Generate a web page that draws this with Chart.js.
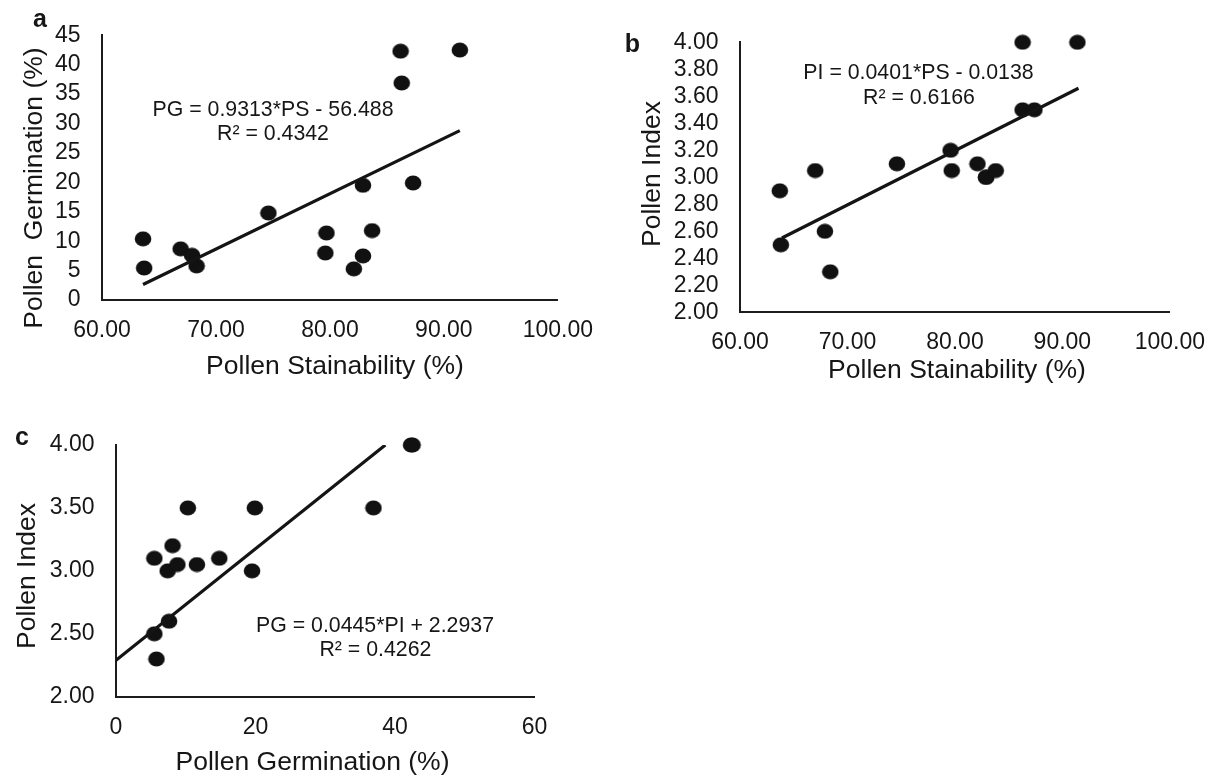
<!DOCTYPE html>
<html>
<head>
<meta charset="utf-8">
<title>Pollen stainability, germination and index</title>
<script src="https://cdn.jsdelivr.net/npm/chart.js@4.4.1/dist/chart.umd.min.js"></script>
<style>
  html, body { margin: 0; padding: 0; background: #fff; }
  body { width: 1222px; height: 775px; position: relative; overflow: hidden; }
  canvas { position: absolute; display: block; }
</style>
</head>
<body>
<canvas id="chartA" width="610" height="390" style="left:0;top:0"></canvas>
<canvas id="chartB" width="602" height="390" style="left:620px;top:0"></canvas>
<canvas id="chartC" width="610" height="375" style="left:0;top:400px"></canvas>
<script>
// panel a: pollen stainability (%) vs pollen germination (%)
const stainA = [63.6, 63.7, 66.9, 67.9, 68.3, 74.6, 79.7, 79.6, 82.1, 82.9, 82.9, 83.7, 86.2, 86.3, 87.3, 91.4];
const germA  = [10.4, 5.45, 8.7, 7.6, 5.8, 14.8, 11.4, 8.0, 5.3, 7.5, 19.5, 11.8, 42.3, 36.9, 19.9, 42.5];
const trendAx = [63.6, 91.4];
const trendAy = [2.64, 28.8];

// panel b: pollen stainability (%) vs pollen index
const stainB = [86.3, 91.4, 86.3, 87.4, 79.6, 74.6, 67.0, 79.7, 82.1, 82.9, 82.9, 83.8, 63.7, 63.8, 67.9, 68.4];
const indexB = [4.00, 4.00, 3.50, 3.50, 3.20, 3.10, 3.05, 3.05, 3.10, 3.00, 3.00, 3.05, 2.90, 2.50, 2.60, 2.30];
const trendBx = [63.9, 91.5];
const trendBy = [2.55, 3.66];

// panel c: pollen germination (%) vs pollen index
const germC  = [42.3, 42.5, 10.3, 19.9, 36.9, 5.5, 8.1, 7.4, 8.8, 11.6, 14.8, 19.5, 7.6, 5.5, 5.8];
const indexC = [4.00, 4.00, 3.50, 3.50, 3.50, 3.10, 3.20, 3.00, 3.05, 3.05, 3.10, 3.00, 2.60, 2.50, 2.30];
const trendCx = [0, 38.6];
const trendCy = [2.29, 4.00];

// tick labels
const stainTicks = [60, 70, 80, 90, 100];
const germTicksA = [0, 5, 10, 15, 20, 25, 30, 35, 40, 45];
const indexTicksB = [2.0, 2.2, 2.4, 2.6, 2.8, 3.0, 3.2, 3.4, 3.6, 3.8, 4.0];
const germTicksC = [0, 20, 40, 60];
const indexTicksC = [2.0, 2.5, 3.0, 3.5, 4.0];

const FAMILY = '"Liberation Sans", Arial, sans-serif';
const INK = '#161616';
const tickFont = { family: FAMILY, size: 23 };

// filled dot, a touch wider than tall like the original
function dotImage() {
  const c = document.createElement('canvas');
  c.width = 18; c.height = 16;
  const g = c.getContext('2d');
  g.fillStyle = '#111';
  g.beginPath();
  g.ellipse(9, 8, 8.3, 7.5, 0, 0, Math.PI * 2);
  g.fill();
  return c;
}
const dot = dotImage();

// titles, equations and panel letters
function labelPlugin(items) {
  return {
    id: 'panelText',
    afterDraw(chart) {
      const ctx = chart.ctx;
      items.forEach(t => {
        ctx.save();
        ctx.font = t.font;
        ctx.fillStyle = INK;
        ctx.textAlign = 'center';
        ctx.textBaseline = 'alphabetic';
        ctx.translate(t.x, t.y);
        if (t.rotate) ctx.rotate(-Math.PI / 2);
        ctx.fillText(t.text, 0, 0);
        ctx.restore();
      });
    }
  };
}

function axis(min, max, ticks, fmt, fit, pad) {
  return {
    type: 'linear', min, max,
    afterBuildTicks: s => { s.ticks = ticks.map(v => ({ value: v })); },
    afterFit: fit,
    grid: { display: false, drawTicks: false },
    border: { display: true, color: '#1c1c1c', width: 2 },
    ticks: { color: INK, font: tickFont, padding: pad, maxRotation: 0, autoSkip: false, callback: fmt }
  };
}

function pts(xs, ys) { return xs.map((x, i) => ({ x, y: ys[i] })); }

function makeChart(id, o) {
  return new Chart(document.getElementById(id), {
    type: 'scatter',
    data: {
      datasets: [
        { data: pts(o.tx, o.ty), showLine: true, pointRadius: 0, borderColor: '#141414', borderWidth: 3.2 },
        { data: pts(o.xs, o.ys), pointStyle: dot, pointRadius: 8, backgroundColor: '#111', borderWidth: 0, clip: false }
      ]
    },
    options: {
      responsive: false,
      animation: false,
      events: [],
      layout: { padding: o.padding },
      plugins: { legend: { display: false }, tooltip: { enabled: false } },
      scales: {
        x: axis(o.xmin, o.xmax, o.xticks, o.xfmt, s => { s.height = o.xh; }, 17),
        y: axis(o.ymin, o.ymax, o.yticks, o.yfmt, s => { s.width = o.yw; }, 21.5)
      }
    },
    plugins: [labelPlugin(o.labels)]
  });
}

const eqFont = '21.3px ' + FAMILY;
const titleFont = '26.5px ' + FAMILY;
const letterFont = 'bold 25px ' + FAMILY;

makeChart('chartA', {
  xs: stainA, ys: germA, tx: trendAx, ty: trendAy,
  xmin: 60, xmax: 100, xticks: stainTicks, xfmt: v => v.toFixed(2),
  ymin: 0, ymax: 45, yticks: germTicksA, yfmt: v => String(v),
  xh: 90, yw: 102,
  padding: { left: 0, top: 33, right: 42.5, bottom: 0 },
  labels: [
    { text: 'a', x: 40, y: 27, font: letterFont },
    { text: 'Pollen  Germination (%)', x: 42, y: 188, rotate: true, font: titleFont },
    { text: 'Pollen Stainability (%)', x: 335, y: 374, font: titleFont },
    { text: 'PG = 0.9313*PS - 56.488', x: 273, y: 116, font: eqFont },
    { text: 'R\u00b2 = 0.4342', x: 273, y: 140, font: eqFont }
  ]
});

makeChart('chartB', {
  xs: stainB, ys: indexB, tx: trendBx, ty: trendBy,
  xmin: 60, xmax: 100, xticks: stainTicks, xfmt: v => v.toFixed(2),
  ymin: 2, ymax: 4, yticks: indexTicksB, yfmt: v => v.toFixed(2),
  xh: 77.7, yw: 120,
  padding: { left: 0, top: 42.3, right: 48, bottom: 0 },
  labels: [
    { text: 'b', x: 12.5, y: 51.5, font: letterFont },
    { text: 'Pollen Index', x: 39.5, y: 174, rotate: true, font: titleFont },
    { text: 'Pollen Stainability (%)', x: 337, y: 378, font: titleFont },
    { text: 'PI = 0.0401*PS - 0.0138', x: 298.5, y: 79.3, font: eqFont },
    { text: 'R\u00b2 = 0.6166', x: 299, y: 104.3, font: eqFont }
  ]
});

makeChart('chartC', {
  xs: germC, ys: indexC, tx: trendCx, ty: trendCy,
  xmin: 0, xmax: 60, xticks: germTicksC, xfmt: v => String(v),
  ymin: 2, ymax: 4, yticks: indexTicksC, yfmt: v => v.toFixed(2),
  xh: 78.3, yw: 116,
  padding: { left: 0, top: 45, right: 75.4, bottom: 0 },
  labels: [
    { text: 'c', x: 22, y: 45, font: letterFont },
    { text: 'Pollen Index', x: 35, y: 176, rotate: true, font: titleFont },
    { text: 'Pollen Germination (%)', x: 312.5, y: 369.5, font: titleFont },
    { text: 'PG = 0.0445*PI + 2.2937', x: 375, y: 231.6, font: eqFont },
    { text: 'R\u00b2 = 0.4262', x: 375.4, y: 255.9, font: eqFont }
  ]
});
</script>
</body>
</html>
